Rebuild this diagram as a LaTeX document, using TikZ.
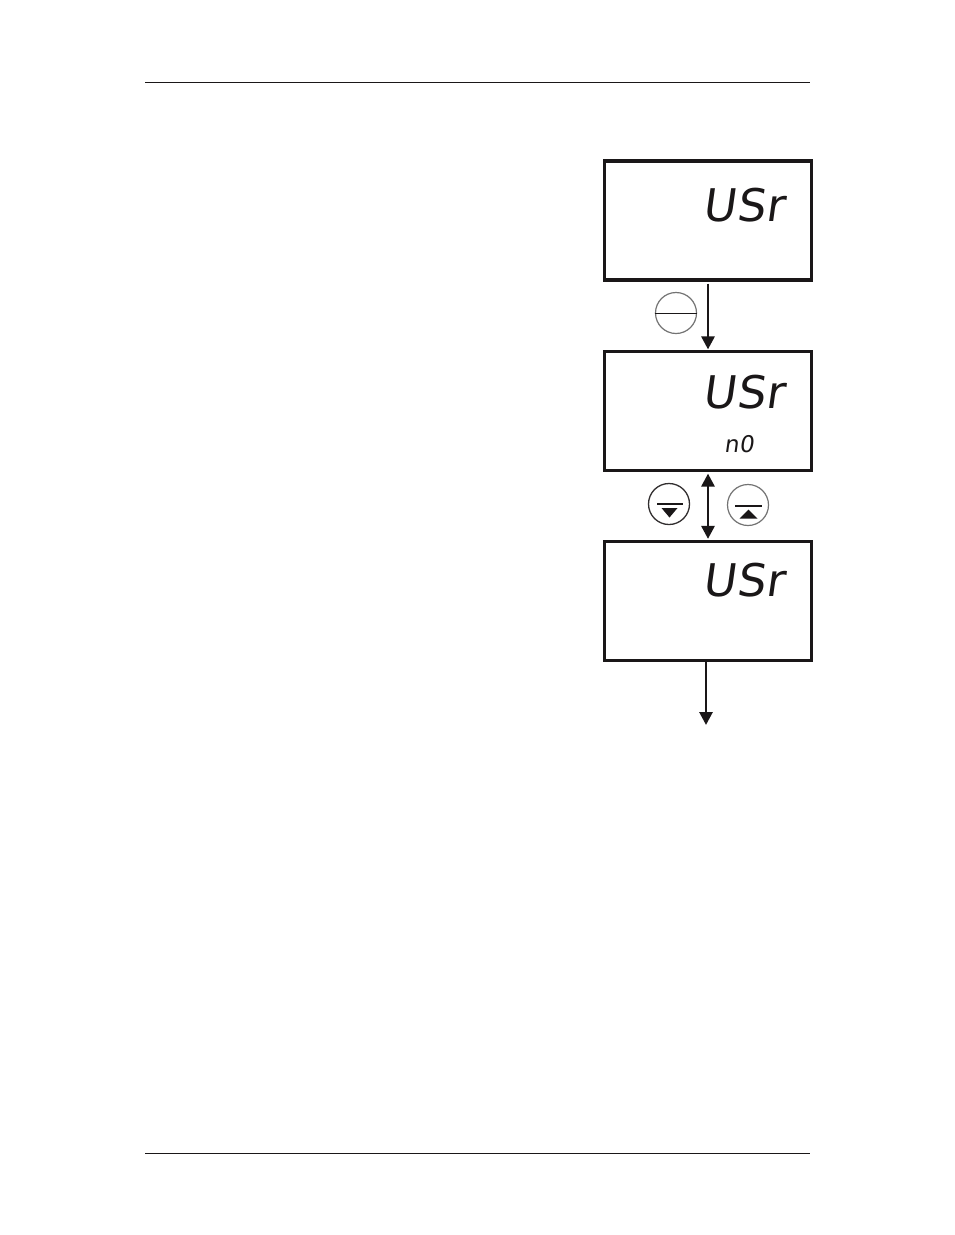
\documentclass[tikz,border=0pt]{standalone}
\usepackage{fontspec}
\usetikzlibrary{arrows.meta,calc}
\newfontfamily\lcd[FakeSlant=0.14,LetterSpace=2]{DejaVu Sans}
\definecolor{ink}{HTML}{1A1718}
\tikzset{
  rulefine/.style={draw=ink,line width=0.9pt},
  lcdbox/.style={draw=ink,line width=3.2pt,fill=white,minimum width=207pt,minimum height=119pt,inner sep=0pt,outer sep=1.6pt},
  bigread/.style={inner sep=0pt,text=ink,font=\lcd\fontsize{45}{45}\selectfont,anchor=base west},
  smallread/.style={inner sep=0pt,text=ink,font=\lcd\fontsize{23}{23}\selectfont,anchor=base west},
  flow/.style={draw=ink,line width=2.8pt,-{Triangle[length=13pt,width=13pt]}},
  flowboth/.style={draw=ink,line width=2.8pt,{Triangle[length=13pt,width=13pt]}-{Triangle[length=13pt,width=13pt]}},
  keydark/.style={circle,draw=ink!90,line width=1.3pt,minimum size=41pt,inner sep=0pt},
  keygray/.style={circle,draw=black!55,line width=1.2pt,minimum size=41pt,inner sep=0pt},
  keymark/.style={draw=ink,line width=1.3pt},
  enterbar/.style={draw=ink,line width=0.9pt},
  tri/.style={fill=ink,draw=none}
}
\begin{document}
\begin{tikzpicture}[x=1pt,y=-1pt]
\useasboundingbox[fill=white] (0,0) rectangle (954,1235);
\coordinate (ruleAL) at (145,82); \coordinate (ruleAR) at (810,82);
\coordinate (ruleBL) at (145,1153); \coordinate (ruleBR) at (810,1153);
\draw[rulefine] (ruleAL) -- (ruleAR);
\draw[rulefine] (ruleBL) -- (ruleBR);
\node[lcdbox] (box1) at (708,220.5) {};
\node[lcdbox] (box2) at (708,411) {};
\node[lcdbox] (box3) at (708,601) {};
\node[bigread] (read1) at (702,221) {USr};
\node[bigread] (read2) at (702,408) {USr};
\node[bigread] (read3) at (702,596) {USr};
\node[smallread] (read4) at (724,452) {n0};
\coordinate (exit) at (706,725);
\draw[flow,shorten <=2pt,shorten >=0.5pt] (box1.south) -- (box2.north);
\draw[flowboth,shorten <=1.5pt,shorten >=1pt] (box2.south) -- (box3.north);
\draw[flow] (box3.south -| exit) -- (exit);
\node[keygray] (enter) at (676,313) {};
\draw[enterbar] (enter.west) -- (enter.east);
\node[keydark] (down) at (669,504) {};
\draw[keymark] (657,504) -- (683,504);
\fill[tri] (661.5,508) -- (677.5,508) -- (669.5,517.5) -- cycle;
\node[keygray] (up) at (748,505) {};
\draw[keymark] (735,506) -- (762,506);
\fill[tri] (739.5,518.5) -- (757.5,518.5) -- (748.5,509.5) -- cycle;
\end{tikzpicture}
\end{document}
